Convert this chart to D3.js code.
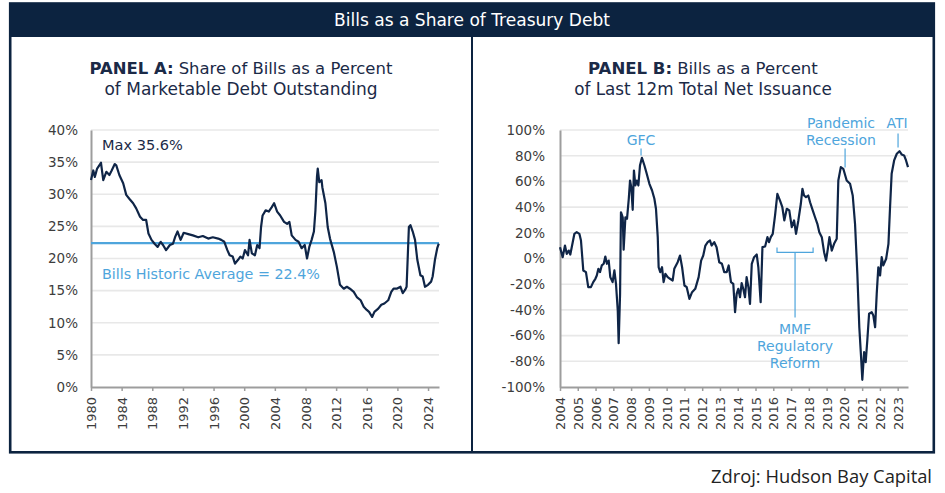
<!DOCTYPE html>
<html><head><meta charset="utf-8">
<script src="https://cdn.jsdelivr.net/npm/d3@7"></script>
<style>body{margin:0;background:#fff;} svg{display:block;}</style>
</head><body>
<svg id="c" width="945" height="493"></svg>
<script>
// ---------- DATA ----------
const chartTitle = "Bills as a Share of Treasury Debt";
const sourceText = "Zdroj: Hudson Bay Capital";

// Panel A: share of bills as % of marketable debt outstanding
const panelAYears = [1980.0,1980.3,1980.5,1980.8,1981.3,1981.6,1982.0,1982.4,1982.7,1983.1,1983.3,1983.7,1984.2,1984.6,1985.0,1985.5,1985.9,1986.4,1986.8,1987.2,1987.5,1987.9,1988.3,1988.7,1989.1,1989.4,1989.8,1990.3,1990.7,1991.0,1991.3,1991.7,1992.1,1992.7,1993.3,1994.0,1994.6,1995.3,1995.9,1996.6,1997.0,1997.4,1997.8,1998.1,1998.5,1998.8,1999.2,1999.5,1999.8,2000.1,2000.5,2000.7,2001.0,2001.4,2001.7,2002.0,2002.2,2002.4,2002.8,2003.2,2003.6,2003.9,2004.3,2004.7,2005.2,2005.6,2005.9,2006.2,2006.7,2007.1,2007.5,2007.9,2008.2,2008.5,2008.8,2009.1,2009.3,2009.5,2009.6,2009.8,2010.1,2010.2,2010.6,2010.9,2011.2,2011.7,2012.1,2012.5,2013.0,2013.4,2013.8,2014.3,2014.7,2015.2,2015.6,2016.0,2016.3,2016.7,2017.0,2017.5,2017.9,2018.3,2018.8,2019.2,2019.5,2019.9,2020.4,2020.7,2021.0,2021.2,2021.5,2021.7,2022.0,2022.3,2022.6,2023.0,2023.3,2023.6,2024.0,2024.4,2024.6,2024.9,2025.2,2025.4];
const panelAValues = [32.2,33.7,32.7,34.0,34.9,32.2,33.5,33.0,33.7,34.7,34.5,33.0,31.7,29.9,29.3,28.6,27.8,26.5,26.0,26.0,23.9,22.9,22.3,21.8,22.6,22.1,21.3,22.1,22.3,23.4,24.2,22.9,24.0,23.8,23.6,23.3,23.5,23.1,23.3,23.1,22.9,22.6,21.3,20.5,20.3,19.2,19.8,20.3,20.0,21.3,20.5,22.9,20.8,20.5,22.1,21.6,24.9,26.7,27.5,27.3,28.0,28.6,27.3,26.7,25.7,25.4,25.7,23.6,22.9,22.6,21.6,22.1,20.0,21.8,22.9,24.2,27.5,32.7,34.0,31.9,32.2,31.1,28.6,24.9,23.1,21.0,18.7,15.9,15.3,15.6,15.3,14.8,14.0,13.5,12.5,12.0,11.7,10.9,11.7,12.2,12.8,13.0,13.5,14.8,15.3,15.3,15.6,14.6,15.1,15.6,24.9,25.2,24.2,22.9,19.8,17.4,17.2,15.6,15.9,16.4,17.2,19.8,21.6,22.3];
const panelAXTicks = [1980,1984,1988,1992,1996,2000,2004,2008,2012,2016,2020,2024];
const panelAYTicks = [0,5,10,15,20,25,30,35,40];
const historicAverage = 22.4;

// Panel B: bills as % of last 12m total net issuance
const panelBYears = [2004.0,2004.15,2004.28,2004.38,2004.49,2004.58,2004.68,2004.81,2004.94,2005.09,2005.18,2005.31,2005.46,2005.59,2005.74,2005.87,2005.99,2006.07,2006.16,2006.25,2006.35,2006.46,2006.55,2006.64,2006.74,2006.83,2006.96,2007.06,2007.15,2007.25,2007.30,2007.38,2007.43,2007.53,2007.58,2007.68,2007.77,2007.87,2007.94,2008.01,2008.09,2008.16,2008.24,2008.32,2008.41,2008.5,2008.61,2008.75,2008.88,2009.03,2009.18,2009.31,2009.40,2009.50,2009.55,2009.64,2009.74,2009.83,2009.93,2010.06,2010.19,2010.34,2010.43,2010.62,2010.75,2010.87,2011.0,2011.13,2011.28,2011.43,2011.61,2011.80,2011.94,2012.06,2012.18,2012.31,2012.44,2012.53,2012.68,2012.81,2012.96,2013.11,2013.24,2013.38,2013.49,2013.62,2013.75,2013.85,2013.94,2014.03,2014.13,2014.22,2014.31,2014.41,2014.50,2014.60,2014.69,2014.79,2014.92,2015.07,2015.16,2015.29,2015.39,2015.54,2015.67,2015.76,2015.86,2015.97,2016.10,2016.23,2016.38,2016.51,2016.62,2016.76,2016.90,2017.04,2017.17,2017.28,2017.41,2017.55,2017.64,2017.73,2017.84,2017.97,2018.07,2018.22,2018.35,2018.48,2018.59,2018.73,2018.86,2018.97,2019.07,2019.16,2019.29,2019.42,2019.57,2019.66,2019.80,2019.94,2020.13,2020.32,2020.47,2020.60,2020.73,2020.84,2020.94,2021.01,2021.11,2021.20,2021.29,2021.39,2021.54,2021.63,2021.73,2021.82,2021.91,2022.01,2022.10,2022.19,2022.35,2022.48,2022.57,2022.66,2022.80,2022.95,2023.10,2023.23,2023.36,2023.47,2023.58];
const panelBValues = [8.8,1.0,10.1,3.6,6.2,3.1,10.1,19.2,20.5,19.2,14.0,-9.3,-10.6,-22.3,-22.3,-18.4,-15.8,-13.2,-8.0,-10.6,-5.4,-4.1,1.5,-4.1,-1.6,-14.5,-18.4,-9.3,-19.7,-40.5,-65.9,-27.5,36.0,32.1,6.8,32.1,30.9,46.5,60.7,55.5,37.9,68.5,56.8,60.7,56.8,72.4,78.4,72.4,65.9,58.1,52.9,46.5,38.7,16.6,-6.8,-10.6,-6.8,-18.4,-11.9,-14.5,-15.8,-17.1,-8.0,-2.9,2.3,-6.8,-21.0,-22.3,-31.4,-26.2,-23.6,-14.5,-1.6,2.3,10.1,12.7,14.0,10.1,12.7,8.8,-2.9,-4.1,-10.6,-10.6,-5.4,-18.4,-19.7,-41.8,-27.5,-23.6,-30.1,-19.2,-23.6,-30.1,-14.5,-22.3,-35.3,-4.1,1.0,3.1,-6.8,-34.0,8.8,9.3,16.6,12.7,16.6,19.2,33.5,50.3,45.1,39.9,29.6,38.7,37.4,24.4,29.6,19.2,29.6,42.6,54.2,49.0,47.7,49.0,43.8,37.4,32.1,27.0,20.5,16.6,4.9,-1.6,7.5,16.6,6.2,11.4,15.3,60.7,71.1,69.8,60.7,58.1,49.0,27.0,-11.9,-53.5,-76.8,-94.4,-72.9,-80.7,-63.8,-43.0,-41.8,-44.4,-53.5,-27.5,-6.8,-13.2,1.0,-5.4,-0.2,11.4,39.9,65.9,76.3,81.5,83.5,80.9,80.2,76.3,71.1];
const panelBXTicks = [2004,2005,2006,2007,2008,2009,2010,2011,2012,2013,2014,2015,2016,2017,2018,2019,2020,2021,2022,2023];
const panelBYTicks = [-100,-80,-60,-40,-20,0,20,40,60,80,100];

// Panel B annotations (data units: year, percent)
const annotLabels = [["GFC"],["Pandemic","Recession"],["ATI"]];
const annotTextX = [2008.56, 2019.81, 2022.96];
const annotTextY = [88.7, 101.2, 101.2];
const annotLineX = [2008.56, 2020.04, 2023.02];
const annotLineTop = [85.6, 85.6, 97.3];
const annotLineBottom = [80.2, 70.8, 86.4];
const mmfLabel = ["MMF","Regulatory","Reform"];
const mmfRange = [2016.21, 2018.24];
const mmfLevel = 4.7;
const mmfEndTop = 8.6;
const mmfStemBottom = -45.9;
const mmfTextTop = -59.1;

// ---------- STYLE ----------
const navy = "#0c2340", lineNavy = "#0f2547", blue = "#4ea5dc", grid = "#e8e8e8", axisGray = "#9d9d9d", tickText = "#3d3d3d";
const tickFont = "DejaVu Sans", textFont = "DejaVu Sans", srcFont = "Open Sans";

const svg = d3.select("#c");

function fit(sel, w) {
  sel.each(function () {
    const base = parseFloat(this.getAttribute("font-size"));
    const l = this.getComputedTextLength();
    if (l > 0) this.setAttribute("font-size", (base * w / l).toFixed(2));
  });
}

// frame
svg.append("rect").attr("x", 10.2).attr("y", 3.5).attr("width", 923.6).attr("height", 448.8)
  .attr("fill", "none").attr("stroke", navy).attr("stroke-width", 2.6);
svg.append("rect").attr("x", 9).attr("y", 3).attr("width", 926).attr("height", 34).attr("fill", navy);
svg.append("line").attr("x1", 472).attr("x2", 472).attr("y1", 37).attr("y2", 452).attr("stroke", navy).attr("stroke-width", 2);

const t = svg.append("text").attr("x", 472).attr("y", 25.5).attr("text-anchor", "middle")
  .attr("font-family", textFont).attr("font-size", 16).attr("fill", "#fff").text(chartTitle);
fit(t, 276);

function panelTitle(cx, bold, rest, line2, w1, w2) {
  const a = svg.append("text").attr("y", 74).attr("font-family", textFont).attr("font-size", 16)
    .attr("font-weight", 700).attr("fill", "#1b2a47").text(bold);
  const b = svg.append("text").attr("y", 74).attr("font-family", textFont).attr("font-size", 16)
    .attr("fill", "#1b2a47").text(rest);
  const wa = a.node().getComputedTextLength(), wb = b.node().getComputedTextLength();
  const gap = 0.3 * 16;
  const s = w1 / (wa + gap + wb);
  a.attr("font-size", 16 * s).attr("x", cx - w1 / 2);
  b.attr("font-size", 16 * s).attr("x", cx - w1 / 2 + (wa + gap) * s);
  const c = svg.append("text").attr("x", cx).attr("y", 94.5).attr("text-anchor", "middle")
    .attr("font-family", textFont).attr("font-size", 16).attr("fill", "#1b2a47").text(line2);
  fit(c, w2);
}
panelTitle(241, "PANEL A:", "Share of Bills as a Percent", "of Marketable Debt Outstanding", 303, 273);
panelTitle(703, "PANEL B:", "Bills as a Percent", "of Last 12m Total Net Issuance", 230, 258);

// scales
const xA = d3.scaleLinear().domain([1980, 2025.43]).range([91, 439]);
const yA = d3.scaleLinear().domain([0, 40]).range([387, 130]);
const xB = d3.scaleLinear().domain([2004, 2023.58]).range([560, 908]);
const yB = d3.scaleLinear().domain([-100, 100]).range([387, 130]);

function drawPanel(x, y, xTicks, yTicks, yPad) {
  const g = svg.append("g");
  g.selectAll("line.grid").data(yTicks.slice(1)).join("line")
    .attr("x1", x.range()[0]).attr("x2", x.range()[1])
    .attr("y1", d => y(d)).attr("y2", d => y(d))
    .attr("stroke", grid).attr("stroke-width", 1.6);

  const ya = g.append("g").attr("transform", `translate(${x.range()[0]},0)`)
    .call(d3.axisLeft(y).tickValues(yTicks).tickSize(0).tickPadding(yPad).tickFormat(d => d + "%"));
  ya.select(".domain").attr("stroke", axisGray).attr("stroke-width", 2);
  ya.selectAll("text").attr("font-family", tickFont).attr("font-size", 13.5).attr("fill", tickText);

  const xa = g.append("g").attr("transform", `translate(0,${y.range()[0]})`)
    .call(d3.axisBottom(x).tickValues(xTicks).tickSize(4).tickSizeOuter(0).tickFormat(d3.format("d")));
  xa.select(".domain").attr("stroke", axisGray).attr("stroke-width", 2);
  xa.selectAll(".tick line").attr("stroke", axisGray).attr("stroke-width", 1.5);
  xa.selectAll("text").attr("font-family", tickFont).attr("font-size", 13).attr("fill", tickText)
    .attr("transform", "rotate(-90)").attr("x", -10).attr("y", 0).attr("dy", "0.35em")
    .style("text-anchor", "end");
  return g;
}

// Panel A
const gA = drawPanel(xA, yA, panelAXTicks, panelAYTicks, 13);
gA.append("line").attr("x1", xA.range()[0]).attr("x2", xA.range()[1])
  .attr("y1", yA(historicAverage)).attr("y2", yA(historicAverage))
  .attr("stroke", blue).attr("stroke-width", 2.2);
gA.append("path").datum(d3.zip(panelAYears, panelAValues))
  .attr("fill", "none").attr("stroke", lineNavy).attr("stroke-width", 2.2).attr("stroke-linejoin", "round")
  .attr("d", d3.line().x(d => xA(d[0])).y(d => yA(d[1])));
const mx = gA.append("text").attr("x", 102).attr("y", 150).attr("font-family", textFont).attr("font-size", 14)
  .attr("fill", "#1b2a47").text("Max 35.6%");
fit(mx, 81);
const av = gA.append("text").attr("x", 102).attr("y", 279).attr("font-family", textFont).attr("font-size", 14)
  .attr("fill", blue).text("Bills Historic Average = " + historicAverage + "%");
fit(av, 218);

// Panel B
const gB = drawPanel(xB, yB, panelBXTicks, panelBYTicks, 15);
gB.append("path").datum(d3.zip(panelBYears, panelBValues))
  .attr("fill", "none").attr("stroke", lineNavy).attr("stroke-width", 2.2).attr("stroke-linejoin", "round")
  .attr("d", d3.line().x(d => xB(d[0])).y(d => yB(d[1])));

annotLabels.forEach((lines, i) => {
  gB.append("line").attr("x1", xB(annotLineX[i])).attr("x2", xB(annotLineX[i]))
    .attr("y1", yB(annotLineTop[i])).attr("y2", yB(annotLineBottom[i]))
    .attr("stroke", blue).attr("stroke-width", 1.2);
  lines.forEach((l, j) => {
    gB.append("text").attr("x", xB(annotTextX[i])).attr("y", yB(annotTextY[i]) + j * 16.5)
      .attr("text-anchor", "middle").attr("font-family", textFont).attr("font-size", 14)
      .attr("fill", blue).text(l);
  });
});

// MMF bracket
const mmfPath = d3.path();
mmfPath.moveTo(xB(mmfRange[0]), yB(mmfEndTop));
mmfPath.lineTo(xB(mmfRange[0]), yB(mmfLevel));
mmfPath.lineTo(xB(mmfRange[1]), yB(mmfLevel));
mmfPath.lineTo(xB(mmfRange[1]), yB(mmfEndTop));
const mid = (mmfRange[0] + mmfRange[1]) / 2;
mmfPath.moveTo(xB(mid), yB(mmfLevel));
mmfPath.lineTo(xB(mid), yB(mmfStemBottom));
gB.append("path").attr("d", mmfPath.toString()).attr("fill", "none").attr("stroke", blue).attr("stroke-width", 1.2);
mmfLabel.forEach((l, j) => {
  gB.append("text").attr("x", xB(mid)).attr("y", yB(mmfTextTop) + j * 17).attr("text-anchor", "middle")
    .attr("font-family", textFont).attr("font-size", 14).attr("fill", blue).text(l);
});

// source
const src = svg.append("text").attr("x", 932).attr("y", 483).attr("text-anchor", "end")
  .attr("font-family", srcFont).attr("font-size", 17).attr("fill", "#222").text(sourceText);
fit(src, 221);
</script>
</body></html>
